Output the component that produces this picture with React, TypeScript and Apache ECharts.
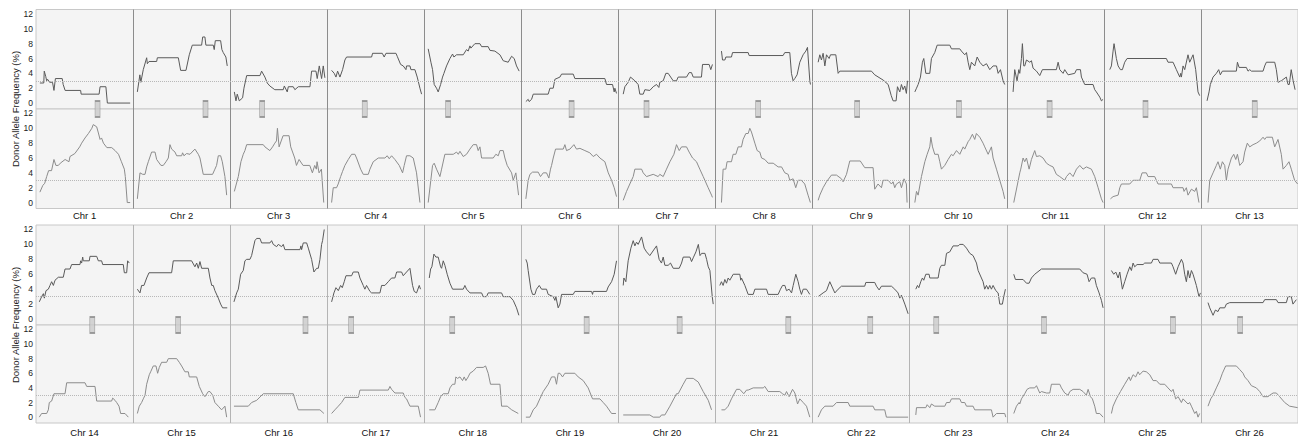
import React, { useEffect, useRef } from 'react';
import * as echarts from 'echarts';

// Profiles: [position along chromosome (% of length), donor allele frequency (%)]
// "a" = upper track, "b" = lower track
const c1a = [[4,2.7],[8,2.7],[8.5,4.3],[10,3.6],[11,3.0],[12,3.2],[14,2.8],[17,2.8],[18.5,1.7],[20,3.3],[27,3.3],[28,2.5],[30,1.7],[46,1.7],[46.5,1.2],[65,1.2],[66,2.2],[72,2.2],[73.5,0],[97,0]];
const c1b = [[4,1.4],[7,2.3],[9,2.6],[11,3.5],[13,4.3],[16,4.3],[18.5,5.8],[20.5,5.0],[23,5.0],[25,5.3],[30,5.8],[34,5.5],[35,6.2],[40,6.6],[45,7.5],[47,8.0],[50.5,8.7],[54,9.3],[57.5,10.0],[59,10.5],[62.5,10.2],[64,9.5],[66,8.5],[67.5,8.7],[69.5,8.0],[73,7.4],[78,7.4],[81.5,7.0],[85,6.5],[88,5.5],[91,4.5],[92,3.5],[94,0],[97,0]];
const c2a = [[4.4,1.5],[7,3.8],[8,2.8],[10.5,4.5],[14,6.1],[14.7,5.3],[16.4,5.6],[24.3,5.6],[25,6.1],[46.6,6.1],[49,4.4],[54.5,4.4],[57.9,6.5],[61,7.8],[70.6,7.8],[71.7,8.9],[74,8.9],[75,7.8],[82.6,7.8],[83.6,7.2],[84.7,8.4],[90.2,8.4],[91.5,7.2],[92.9,6.8],[95.6,6.2],[97,5.0]];
const c2b = [[4.4,0.5],[7.1,4.0],[9.9,3.8],[12.3,3.8],[14,4.8],[15.7,5.5],[19.1,6.8],[22.6,6.8],[24.3,5.8],[28.7,5.0],[31.1,5.0],[33.9,5.5],[36.3,6.0],[38,7.8],[39.7,7.2],[43.2,6.8],[44.9,6.3],[50,6.3],[51,6.7],[52.4,6.3],[55.1,6.6],[58.6,6.5],[63.7,7.2],[67.2,6.5],[68.9,6.0],[72.3,3.8],[81.9,3.8],[84.3,4.5],[86,5.0],[87.8,6.3],[90.2,6.3],[91.9,5.5],[94.6,3.5],[96.4,1.0]];
const c3a = [[4.3,1.5],[6,0.3],[7.3,1.2],[9.4,0.3],[12.8,0.7],[14.2,2.0],[17,3.7],[30.7,3.7],[32.4,4.3],[35.8,3.5],[38.2,2.7],[40.9,2.3],[46,1.8],[54.7,1.8],[55.8,2.3],[58.8,1.5],[59.9,2.2],[65,2.2],[66.7,1.8],[70.2,2.2],[82.2,2.2],[83.9,4.3],[88.4,4.3],[89.7,3.3],[91.8,5.0],[94.2,3.3],[95.9,5.0],[97.6,3.4]];
const c3b = [[4.3,1.5],[8.4,3.5],[11.1,5.5],[13.5,6.5],[15.2,7.0],[17,7.8],[34.1,7.8],[35.8,7.5],[40.9,7.0],[43.7,7.5],[46,8.0],[47.7,8.3],[48.7,10.0],[50.4,7.5],[54.5,9.0],[60.7,9.0],[62.4,7.5],[66.5,6.0],[68.3,5.0],[71,5.8],[75.1,5.0],[82,5.0],[84.7,4.0],[87.1,5.0],[88.8,4.5],[89.5,5.5],[91.6,4.0],[94,4.5],[96.4,0]];
const c4a = [[4.5,4.4],[7.2,4.0],[9,3.5],[10.7,4.3],[13.1,3.5],[15.8,4.5],[18.2,5.8],[19.9,6.2],[45.7,6.2],[46.7,6.7],[56.7,6.7],[58.7,6.2],[60.5,6.7],[70.8,6.7],[72.1,6.3],[75.6,5.2],[78.3,5.0],[81.1,4.5],[81.7,5.0],[85.2,5.0],[86.2,4.5],[90.3,4.5],[92.7,3.5],[95.5,2.0],[97.2,1.2]];
const c4b = [[4.5,0],[6.2,2.0],[9.6,2.0],[11.3,2.5],[13.8,3.5],[15.8,4.2],[18.2,5.0],[21.7,5.8],[25.1,6.5],[28.5,6.5],[30.2,6.0],[34.4,4.5],[37.1,3.8],[42.3,3.8],[44,4.5],[47.4,5.5],[52.6,6.0],[59.4,6.0],[61.8,6.3],[63.9,5.9],[66.3,6.3],[69.7,5.8],[74.2,5.0],[77.6,4.0],[79.3,5.0],[81.7,6.3],[85.2,6.3],[88.6,6.0],[92,4.0],[95.5,0]];
const c5a = [[4,7.3],[6.8,5.5],[8.5,4.5],[10.2,2.5],[12.6,2.0],[14.3,1.5],[16.8,2.5],[18.8,3.5],[20.2,4.0],[22.9,5.0],[26.4,6.0],[29.1,6.6],[30.5,6.2],[33.2,6.5],[40.1,6.5],[43.5,7.2],[45.2,7.0],[47,7.7],[48,7.4],[52.1,8.0],[57.3,8.0],[59,7.6],[65.8,7.6],[67.6,7.1],[72.7,7.0],[77.9,6.5],[81.3,5.7],[86.4,5.5],[89.9,6.3],[92.6,6.0],[95,5.0],[97.7,4.3]];
const c5b = [[4,0],[8.5,5.0],[10.2,5.3],[12.6,4.5],[16.1,3.5],[17.8,4.5],[21.2,6.5],[29.8,6.5],[33.2,6.8],[35,6.5],[36.7,6.9],[40.1,6.2],[43.5,6.5],[47,7.2],[50.4,7.8],[53.8,7.8],[55.5,7.0],[57.3,7.5],[59,6.0],[71,6.0],[73.7,6.5],[76.2,6.3],[77.9,7.0],[81.3,7.0],[83,6.0],[85.4,5.0],[89.9,4.0],[91.6,3.0],[94.3,4.0],[97.1,1.0]];
const c6a = [[4.6,0.2],[7,0.5],[8,0.2],[10.5,0.5],[12.2,1.2],[27.6,1.2],[29.4,2.0],[32.8,2.0],[34.5,3.2],[39.7,3.5],[41.4,3.9],[53.4,3.9],[55.1,3.3],[86,3.3],[87.7,2.5],[93.9,2.5],[95.6,1.5],[96.3,2.0],[98,1.3]];
const c6b = [[4.6,0.5],[7,3.0],[8.8,3.8],[11.5,4.1],[17.3,4.1],[19.7,3.5],[22.5,4.0],[25.9,4.0],[28.3,3.3],[30,4.5],[31.1,5.0],[32.8,6.0],[35.2,7.2],[43.1,7.2],[44.8,7.8],[46.5,7.0],[50,7.2],[54.1,7.8],[56.8,7.2],[60.3,7.3],[65.4,7.0],[70.5,6.7],[74,6.2],[77.4,6.5],[80.9,6.0],[86,5.5],[89.5,4.0],[92.9,3.0],[95.6,2.0],[98,0.8]];
const c7a = [[4.9,1.2],[6.6,2.2],[10,2.8],[12.4,3.5],[16.9,3.0],[20.3,2.5],[22,1.2],[25.5,1.2],[27.2,1.8],[32.3,1.7],[35.8,2.2],[39.2,2.5],[41.6,2.1],[42.6,2.8],[46.1,3.0],[48.8,4.0],[51.2,4.0],[56.4,3.0],[59.8,3.0],[61.5,3.5],[70.1,3.5],[72.8,4.1],[75.2,4.1],[77,3.5],[85.5,3.5],[86.6,5.2],[93.4,5.2],[95.1,4.5],[96.8,5.2]];
const c7b = [[4.9,0.3],[8.3,1.5],[11.7,2.5],[15.2,3.5],[16.9,4.5],[23.8,4.5],[25.5,4.0],[28.9,3.5],[35.8,3.8],[40.9,3.5],[42.6,3.8],[46.1,3.5],[49.5,4.5],[53,5.5],[57.1,6.5],[59.8,7.8],[62.6,7.0],[65,7.5],[70.1,7.5],[72.8,6.8],[76.3,6.0],[80.4,5.5],[83.8,4.5],[87.3,3.5],[92.4,2.0],[95.9,1.0],[96.8,0.7]];
const c8a = [[6.1,7.0],[7.2,5.8],[9.6,5.8],[10.6,6.2],[16.4,6.2],[17.5,6.8],[33.6,6.8],[34.6,6.4],[69.6,6.4],[71.3,6.8],[76.5,6.8],[78.2,4.0],[79.9,3.0],[81.6,3.3],[84,3.8],[86.8,5.5],[90.2,6.5],[93,7.0],[94.7,7.5],[97.1,3.0],[97.8,2.5]];
const c8b = [[6.1,0],[7.8,4.5],[10.6,4.5],[11.9,5.5],[16.4,5.5],[18.1,6.5],[20.9,6.5],[23.3,7.5],[26.7,7.5],[28.4,8.5],[31.2,9.3],[33.6,9.3],[35.3,10.0],[37,9.5],[40.5,8.0],[42.9,7.0],[45.6,6.8],[47.4,6.0],[50.8,5.8],[54.2,5.3],[59.4,5.3],[64.5,4.8],[68,4.8],[71.4,4.0],[74.8,3.8],[76.5,3.0],[79.9,3.2],[82.6,2.0],[85,3.0],[88.4,3.0],[91.9,2.5],[95.3,1.0],[97.7,0]];
const c9a = [[5.7,5.5],[7.4,6.5],[9.1,5.8],[10.8,6.7],[12.6,5.0],[14.3,6.5],[17,6.0],[18.4,6.5],[23.9,6.5],[26.3,4.0],[28,4.3],[60.6,4.3],[64,3.8],[72.6,3.1],[77.8,2.5],[81,1.0],[82.9,0.3],[86,0.3],[87.4,2.2],[89.8,1.5],[91.5,2.5],[93.2,1.8],[94.9,2.3],[96.6,1.3],[97.7,3.0]];
const c9b = [[5.7,0.3],[7.4,1.0],[10.8,2.0],[14.3,2.8],[19.4,3.7],[24.6,3.7],[29.7,3.2],[31.4,2.8],[34.9,3.8],[38.3,5.6],[49.1,5.6],[53.7,4.7],[62.3,4.7],[64,1.8],[67.4,2.5],[70.9,2.0],[72.6,3.0],[77.8,3.0],[81.2,2.5],[82.9,2.8],[84.6,2.0],[86.3,2.5],[89.8,2.8],[91.5,2.0],[94.2,3.2],[96.6,2.5],[97.3,0]];
const c10a = [[5.3,1.5],[7,2.0],[8.7,2.5],[11.1,3.5],[13.1,5.5],[14.5,6.0],[16.6,4.0],[20.7,4.0],[22.4,6.0],[25.8,6.8],[28.3,7.8],[41.3,7.8],[43,7.3],[51.6,7.3],[53.3,7.0],[56.7,6.5],[58.5,6.8],[60.2,5.5],[61.9,4.5],[63.6,5.5],[67,5.0],[69.5,6.2],[72.2,5.5],[75.6,5.0],[79.1,5.3],[82.5,4.5],[85.9,5.0],[89.4,5.0],[91.1,4.0],[93.5,4.5],[96.2,3.0],[97.9,2.5]];
const c10b = [[5.3,0],[7,1.5],[8.7,1.0],[12.1,3.5],[15.6,5.5],[18,6.5],[20.7,7.5],[21.8,8.8],[23.5,7.5],[25.8,6.5],[29.3,6.5],[31,5.5],[32.7,4.5],[36.1,5.0],[39.6,5.8],[43,6.5],[44.7,6.3],[48.2,7.0],[51.6,6.5],[55.1,7.5],[56.7,7.2],[60.2,8.2],[61.9,8.5],[64.6,9.2],[67,8.5],[68.7,9.3],[72.2,8.8],[75.6,8.0],[77.3,7.5],[80.8,6.5],[84.2,7.5],[85.9,6.0],[89.4,4.5],[92.8,3.0],[96.2,1.5],[97.9,0.5]];
const c11a = [[6.5,1.5],[8.2,4.5],[10.6,3.0],[12.4,4.5],[13.4,4.0],[15.1,6.0],[16.1,8.0],[17.5,5.0],[18.5,5.0],[20.3,5.8],[23.7,5.5],[25.4,5.7],[27.1,4.7],[30.6,4.3],[34,3.7],[36.7,4.5],[51.1,4.5],[52.9,5.5],[54.6,4.5],[58,4.0],[59.7,4.5],[63.2,3.8],[70,4.0],[71.8,4.5],[75.9,4.5],[76.9,3.5],[80.3,2.5],[88.9,2.5],[90.6,1.8],[92.3,1.5],[95.8,0.8],[97.5,0.3],[99.2,0.5]];
const c11b = [[7.2,0],[13.4,4.0],[14.4,4.5],[16.8,6.0],[18.5,5.5],[20.3,6.0],[23,4.5],[25.4,5.8],[28.8,7.0],[30.6,6.2],[34,6.3],[37.4,6.0],[40.9,5.3],[44.3,5.0],[47.7,4.8],[51.1,3.8],[54.6,3.5],[59.7,3.0],[61.5,3.5],[64.9,4.0],[68.3,3.5],[71.8,4.5],[75.2,5.0],[78.6,4.5],[82,4.8],[87.2,4.5],[90.6,3.5],[94.1,2.0],[97.5,0.5],[99.2,0]];
const c12a = [[6.1,4.5],[7.8,5.0],[9.5,7.0],[10.5,8.0],[12.9,6.0],[14.7,5.0],[17.1,4.5],[19.1,4.5],[21.5,5.5],[23.9,6.0],[64.4,6.0],[66.1,5.5],[71.3,5.5],[74.7,4.5],[78.2,3.5],[79.2,4.0],[79.9,3.5],[81.6,5.0],[83.3,4.5],[86.7,6.5],[88.4,5.5],[91.9,6.5],[94.6,4.5],[97,1.5],[98.7,1.0]];
const c12b = [[6.8,0.5],[9.5,0.8],[14.7,1.0],[16.4,2.0],[18.1,2.5],[26.7,2.5],[30.1,3.0],[37,3.0],[39.4,4.0],[43.8,4.0],[45.5,3.5],[52.4,3.5],[55.8,2.5],[69.6,2.5],[71.3,2.0],[81.6,2.0],[82.6,1.5],[85,2.0],[86.7,1.0],[90.2,1.8],[93.6,1.5],[95.3,2.0],[98,0]];
const c13a = [[6.3,0.3],[8.4,1.5],[9.7,2.5],[12.5,3.5],[15.9,4.0],[18.3,4.5],[20,3.8],[22.1,4.3],[36.5,4.3],[37.6,5.5],[39.3,4.8],[46.8,4.8],[48.5,4.3],[50.3,4.5],[52,4.3],[64,4.3],[65.7,5.0],[67.4,5.5],[76,5.5],[77.7,4.5],[79.4,2.8],[82.8,3.0],[88,3.5],[89.7,2.5],[91,2.5],[93,4.5],[95,3.0],[97,1.8]];
const c13b = [[7.3,0],[9.1,3.0],[12.5,4.0],[15.9,5.0],[17.6,5.5],[20,4.5],[22.1,5.5],[24.5,5.0],[26.2,3.0],[27.9,4.5],[31.4,6.0],[33.8,6.5],[35.9,5.8],[37.6,6.5],[40,5.0],[43.4,5.5],[45.1,6.8],[47.8,8.0],[50.3,7.5],[53.7,7.8],[57.1,8.0],[60.6,8.3],[64,8.8],[65.7,8.5],[67.4,8.8],[73.6,8.8],[76,7.5],[79.4,8.5],[82.8,6.5],[84.6,4.5],[88,5.0],[90.7,5.5],[93.1,4.5],[96.5,3.0],[99.6,2.5]];
const c14a = [[3.4,2.3],[5.8,3.0],[7.6,3.4],[8.6,2.8],[10.3,3.8],[12.7,4.0],[14.4,4.5],[16.1,5.0],[17.9,4.5],[19.6,5.2],[23,5.6],[28.1,5.6],[29.9,6.7],[35,6.7],[36.7,7.3],[45.3,7.3],[46,7.8],[47,7.5],[48.1,8.3],[48.7,7.8],[54.9,7.8],[55.6,8.4],[62.5,8.4],[64.2,7.8],[67.6,7.8],[68.7,7.3],[89.9,7.3],[91,6.2],[93.4,6.2],[94.4,7.8],[96.1,7.5]];
const c14b = [[3.4,0],[5.8,0.5],[11,0.5],[12.7,1.0],[13.7,2.0],[16.1,2.2],[18.5,3.2],[29.9,3.2],[31.6,4.7],[50.5,4.7],[52.2,4.2],[60.8,4.2],[62.5,2.2],[77.9,2.2],[79,2.6],[81.4,2.3],[83.1,2.0],[85.5,1.5],[87.2,0.5],[91.7,0.5],[95.1,0]];
const c15a = [[4.4,4.0],[7.1,3.5],[8.8,4.5],[11.2,4.5],[14,5.5],[16.4,6.2],[39.7,6.2],[41.4,7.8],[60.3,7.8],[63.7,7.0],[65.5,7.5],[67.2,6.8],[68.9,7.7],[70.6,6.8],[77.5,6.8],[79.2,5.5],[81,4.5],[82.6,4.5],[84.3,3.8],[87.8,2.8],[90.2,2.0],[92.2,1.5],[97,1.5]];
const c15b = [[4.4,0.5],[6.4,1.5],[8.8,2.0],[10.5,2.5],[12.3,3.0],[14,4.5],[16.7,5.8],[18.1,6.2],[20.8,7.0],[23.6,7.0],[25.3,6.0],[27,6.8],[29.4,7.5],[34.6,7.5],[36.3,8.0],[44.9,8.0],[47.6,7.5],[50,7.0],[53.4,6.2],[56.9,6.2],[57.9,5.5],[65.5,5.5],[68.2,4.2],[71.7,3.2],[74,2.8],[77.5,3.5],[79.2,3.5],[82,3.0],[84.3,2.0],[87.8,1.5],[91.2,1.0],[94.6,1.5],[96.4,0]];
const c16a = [[3.9,2.3],[6.7,3.5],[8.4,4.0],[10.8,6.0],[13.5,6.5],[15.2,7.8],[17,8.0],[20.4,8.0],[22.1,8.5],[25.5,10.5],[27.3,10.8],[30.7,10.8],[32.4,10.2],[41,10.2],[42.7,10.5],[44.4,10.0],[47.9,9.7],[49.6,10.0],[53,9.7],[54.7,10.0],[56.4,9.3],[71.9,9.3],[72.9,9.8],[73.6,9.3],[75.3,10.2],[78.8,10.2],[80.5,9.5],[83.9,8.0],[86.3,6.3],[89.1,6.8],[90.8,6.8],[92.5,8.0],[94.2,10.0],[95.2,10.5],[96.9,12.0]];
const c16b = [[3.9,1.5],[18.7,1.5],[22.1,2.0],[27.3,2.3],[34.1,3.2],[65,3.2],[67.7,2.0],[70.2,1.0],[92.5,1.0],[96.6,0.5]];
const c17a = [[4.5,2.3],[6.9,3.5],[9,4.2],[11.4,3.8],[13.8,4.5],[15.5,4.2],[17.5,5.0],[19.3,5.8],[25.1,5.8],[26.8,6.3],[32,6.3],[33.7,5.5],[37.1,4.5],[38.8,4.0],[40.5,4.5],[44,3.7],[45.7,3.5],[54.3,3.5],[56,4.5],[59.4,4.5],[62.9,5.0],[66.3,5.5],[69.7,5.5],[71.5,6.3],[76.6,6.3],[78.3,5.8],[81.7,6.3],[85.2,6.8],[87.9,4.5],[89.6,3.7],[92,3.5],[94.8,4.5],[96.1,4.0]];
const c17b = [[4.5,0.5],[7.9,1.0],[11.4,1.5],[14.8,2.0],[18.2,2.7],[32,2.7],[33.7,3.7],[62.9,3.7],[64.6,4.2],[66.3,3.8],[69.7,3.3],[78.3,3.3],[80,2.7],[81.7,2.5],[85.2,1.5],[93.8,1.5],[96.1,0]];
const c18a = [[5.1,5.5],[6.5,6.7],[7.8,7.0],[9.9,8.7],[11.9,8.3],[14.3,8.3],[16.8,7.0],[17.8,6.8],[19.5,7.8],[21.2,7.2],[23.6,6.0],[26.4,4.8],[28.1,4.3],[29.1,4.0],[40.1,4.0],[41.8,4.5],[43.5,4.0],[47,3.5],[59,3.5],[60.7,3.0],[64.1,3.0],[65.8,3.5],[79.6,3.5],[81.3,3.0],[88.2,3.0],[91.6,2.5],[95,1.5],[97.4,0.5]];
const c18b = [[5.1,1.0],[10.9,1.0],[14.3,2.0],[16.8,2.8],[19.5,3.2],[24.6,3.2],[26.4,4.0],[29.1,4.5],[31.5,4.5],[32.5,5.5],[34.2,5.3],[36.7,5.5],[39.4,5.0],[41.1,5.5],[42.8,5.0],[45.2,5.5],[47,6.0],[50.4,6.3],[53.8,6.8],[60.7,6.8],[63.1,7.0],[65.8,6.0],[68.2,4.5],[77.9,4.5],[79.6,1.5],[85.4,1.5],[90,1.0],[96.8,0.5]];
const c19a = [[4.6,8.0],[6,7.5],[7,6.5],[8.1,5.5],[9.8,4.0],[11.5,3.3],[13.9,3.3],[15.6,4.0],[18.4,4.5],[20.8,4.0],[25.9,4.0],[27.6,3.3],[32.8,3.0],[34.5,2.5],[35.5,3.0],[37.9,1.5],[39.7,2.0],[41.4,3.3],[53.4,3.3],[55.1,3.7],[72.3,3.7],[73.3,3.3],[74,3.7],[87.7,3.7],[89.4,4.3],[92.9,5.0],[95.6,6.0],[98,7.8]];
const c19b = [[4.6,0],[8.8,0],[12.2,1.0],[15.6,1.5],[19,2.5],[22.5,3.5],[27.6,4.5],[31.1,5.5],[34.5,5.5],[36.2,4.5],[37.9,6.0],[39.7,6.0],[42.4,5.5],[44.8,6.0],[55.1,6.0],[58.5,5.5],[63.7,5.0],[68.8,4.0],[73.3,2.5],[80.9,2.5],[84.3,2.0],[87.7,1.5],[92.9,0.5],[97.4,0.5]];
const c20a = [[4.9,4.5],[5.6,5.5],[7.6,5.0],[10,7.8],[12.8,9.5],[15.2,10.5],[16.9,9.8],[18.6,10.3],[20.3,10.0],[23.8,11.0],[26.5,9.5],[28.9,9.0],[32.3,8.5],[39.2,9.8],[41.9,8.0],[44.3,7.5],[46.1,8.3],[47.8,7.2],[51.2,7.2],[53.6,7.5],[56.4,6.8],[62.6,6.8],[65,7.5],[66.7,8.3],[73.6,8.3],[75.3,7.7],[77,8.2],[79.8,9.0],[82.3,10.0],[84,8.5],[85.7,8.8],[89.1,8.8],[90.8,8.0],[92.5,7.0],[94.2,6.5],[96.6,3.0],[97.6,2.0]];
const c20b = [[4.9,0.3],[32.3,0.3],[35.8,0],[42.6,0],[44.3,0.3],[47.8,0.3],[53,1.5],[59.8,3.2],[61.5,3.2],[66.7,4.5],[70.1,5.3],[77,5.3],[82.2,4.8],[87.3,3.5],[92.5,2.3],[95.9,1.0]];
const c21a = [[4.4,4.5],[6.1,5.0],[7.8,4.5],[9.6,5.3],[11.3,4.8],[13,5.5],[14.7,5.2],[18.2,6.0],[25,6.0],[26,5.2],[26.7,5.5],[30.2,4.5],[33.6,3.3],[38.8,3.3],[40.5,4.0],[52.5,4.0],[54.2,3.3],[64.5,3.3],[66.9,4.0],[69,4.5],[71.4,4.5],[73.1,3.8],[75.8,4.0],[78.3,3.5],[80,4.5],[82.7,6.0],[85.1,5.0],[86.8,4.0],[88.5,3.3],[90.3,4.0],[93.7,4.0],[97.1,3.3]];
const c21b = [[6.1,1.0],[9.6,1.0],[13,1.5],[16.4,2.5],[21.6,3.8],[25,3.8],[29.1,3.2],[31.9,3.7],[33.6,3.7],[38.8,4.0],[49.1,4.0],[50.8,4.2],[54.2,3.5],[66.2,3.5],[69,3.2],[71.4,3.0],[73.1,3.5],[75.8,2.8],[79.3,3.8],[81.7,3.3],[84.5,1.8],[86.8,2.5],[90.3,2.0],[93.7,1.5],[97.1,0]];
const c22a = [[5.7,3.0],[10.8,3.5],[14.3,3.8],[17.7,5.0],[20.1,4.3],[22.9,3.5],[26.3,4.0],[29.7,4.4],[53.7,4.4],[54.8,4.9],[64,4.9],[65.8,4.4],[68.5,3.9],[70.9,4.4],[81.2,4.4],[84.6,4.0],[88,3.5],[89.8,2.8],[91.5,3.2],[95,2.0],[98.4,0.7]];
const c22b = [[5.7,0],[9.1,1.0],[12.6,1.5],[21.1,1.5],[24.6,2.0],[36.6,2.0],[38.3,1.5],[62.3,1.5],[64,1.0],[74.3,1.0],[76,0],[98.4,0]];
const c23a = [[6.3,4.0],[8,4.5],[9.4,4.2],[11.4,5.0],[13.1,5.5],[14.5,5.2],[16.6,6.0],[20,6.0],[20.7,5.5],[29.3,5.5],[31,6.8],[32.7,7.2],[36.2,7.2],[37.9,8.8],[41.3,9.0],[44.7,9.8],[49.9,9.8],[51.6,10.0],[55.1,10.0],[58.5,9.5],[61.9,8.8],[65.3,8.5],[68.8,7.5],[70.5,6.5],[73.9,5.5],[75.6,5.0],[77.3,4.0],[79.1,4.5],[80.8,4.0],[82.5,4.5],[84.2,4.0],[85.9,4.5],[88.7,3.8],[91.1,3.5],[92.8,2.0],[95.5,2.0],[96.9,3.0],[98.6,4.0]];
const c23b = [[6.3,0.3],[7,1.3],[16.6,1.3],[18,1.7],[20.7,1.3],[22.4,1.8],[25.8,1.5],[36.2,1.5],[37.9,2.0],[41.3,2.0],[43,2.5],[51.6,2.5],[53.3,2.0],[56.7,2.0],[58.5,1.5],[65.3,1.5],[67,1.0],[84.2,1.0],[85.9,0],[89.4,0.5],[97.9,0.5],[99,0]];
const c24a = [[7.2,6.0],[8.9,5.3],[16.8,5.3],[20.3,4.8],[23,4.8],[25.4,5.5],[28.8,6.0],[35.7,6.7],[75.2,6.7],[78.6,6.2],[82.7,6.0],[84.8,5.0],[87.2,5.5],[90.6,5.5],[92.3,4.5],[95.1,3.5],[97.5,2.5],[99.2,1.5]];
const c24b = [[7.2,0.5],[10,1.5],[12.7,2.0],[13.4,1.8],[15.1,2.5],[18.5,3.2],[20.9,3.8],[23.7,4.0],[28.8,4.0],[30.6,4.3],[34,3.3],[35.7,3.5],[40.9,3.3],[44.3,3.3],[46,4.5],[54.6,4.5],[56.3,4.0],[59.7,3.3],[63.2,3.0],[64.9,3.5],[68.3,3.8],[75.2,3.8],[78.6,3.5],[82,3.0],[83.8,3.8],[86.2,2.8],[88.2,2.5],[90.6,1.5],[92.3,0.5],[95.8,0.5],[99.2,0]];
const c25a = [[7.8,6.5],[10.2,6.0],[12.3,6.3],[14.7,5.5],[16.4,6.3],[19.1,4.0],[21.5,5.0],[23.9,6.0],[26.7,7.0],[28.4,6.5],[30.1,7.5],[31.8,7.0],[34.2,7.3],[40.4,7.3],[42.1,7.5],[49,7.5],[50.7,8.0],[55.8,8.0],[57.6,7.5],[69.6,7.5],[71.3,7.0],[74,6.0],[76.5,7.0],[79.9,8.0],[81.6,7.5],[83.3,6.0],[85,5.0],[86.7,6.5],[88.4,5.5],[90.2,6.5],[91.9,6.0],[95.3,4.5],[98,3.0],[99.5,3.5]];
const c25b = [[7.8,0.5],[9.5,1.5],[12.9,2.5],[17.1,3.5],[21.5,4.5],[26,5.5],[27.4,5.0],[30.1,5.8],[32.8,5.5],[35.2,6.2],[36.9,5.8],[40.4,6.3],[43.8,6.2],[47.3,5.8],[50.7,5.0],[54.1,5.0],[57.6,4.5],[62.7,4.5],[66.1,4.0],[69.6,3.5],[71.3,3.8],[74,2.5],[76.5,2.8],[79.9,2.0],[81.6,2.5],[86.7,1.8],[88.4,2.0],[90.2,1.5],[93.6,0.5],[95.3,0.8],[97,0],[98.7,0.5]];
const c26a = [[7.3,2.2],[9.1,1.5],[12.5,0.5],[14.9,1.2],[17.6,1.0],[19.4,1.5],[24.5,1.5],[26.2,2.0],[29.7,2.2],[64,2.2],[65.7,2.6],[77.7,2.6],[79.4,2.2],[88,2.2],[89.7,3.0],[93.1,3.0],[94.8,2.0],[98.3,2.6]];
const c26b = [[7.3,1.5],[10.1,2.5],[12.5,3.0],[15.9,4.0],[19.4,5.0],[22.1,6.0],[25.5,7.0],[36.5,7.0],[40,6.5],[43.4,6.0],[45.1,5.5],[48.5,5.0],[52,4.3],[57.1,4.0],[60.6,3.5],[64,2.8],[69.2,2.8],[70.9,3.0],[74.3,3.3],[77.7,3.3],[81.1,2.8],[86.3,2.0],[91.4,1.5],[99.6,1.3]];

const upperProfiles = [c1a,c2a,c3a,c4a,c5a,c6a,c7a,c8a,c9a,c10a,c11a,c12a,c13a,c14a,c15a,c16a,c17a,c18a,c19a,c20a,c21a,c22a,c23a,c24a,c25a,c26a];
const lowerProfiles = [c1b,c2b,c3b,c4b,c5b,c6b,c7b,c8b,c9b,c10b,c11b,c12b,c13b,c14b,c15b,c16b,c17b,c18b,c19b,c20b,c21b,c22b,c23b,c24b,c25b,c26b];

const row1Names = ['Chr 1','Chr 2','Chr 3','Chr 4','Chr 5','Chr 6','Chr 7','Chr 8','Chr 9','Chr 10','Chr 11','Chr 12','Chr 13'];
const row2Names = ['Chr 14','Chr 15','Chr 16','Chr 17','Chr 18','Chr 19','Chr 20','Chr 21','Chr 22','Chr 23','Chr 24','Chr 25','Chr 26'];

// centromere position (% of chromosome length)
const row1Centromeres = [63.4,74.6,33.0,38.6,24.5,51.7,28.9,43.9,45.9,50.7,44.1,42.9,55.4];
const row2Centromeres = [58.0,46.4,77.6,24.7,28.8,67.2,63.0,75.0,59.4,27.4,38.3,71.1,40.4];

const yTicks = [0, 2, 4, 6, 8, 10, 12];
const thresholdValue = 3;
const Y_MIN = -0.8;
const Y_MAX = 12.6;
const yTitle = 'Donor Allele Frequency (%)';

export default function App() {
  const ref = useRef<HTMLDivElement>(null);
  useEffect(() => {
    if (!ref.current) return;
    const chart = echarts.init(ref.current, null, { renderer: 'svg' });
    const font = 'Arial, "Liberation Sans", Helvetica, sans-serif';
    const rowNames = [row1Names, row2Names];
    const rowCentro = [row1Centromeres, row2Centromeres];

    const grid = [
      { left: 36, right: 0, top: 9.5, height: 99.5 },
      { left: 36, right: 0, top: 109, height: 99.5 },
      { left: 36, right: 0, top: 225, height: 100 },
      { left: 36, right: 0, top: 325, height: 99 },
    ].map((g) => ({ ...g, show: true, backgroundColor: '#f4f4f4', borderColor: '#c8c8c8', borderWidth: 1 }));

    const xAxis: any[] = [];
    for (let g = 0; g < 4; g++) {
      xAxis.push({ type: 'value', gridIndex: g, min: 0, max: 13, show: false });
    }
    for (let g = 0; g < 4; g++) {
      const row = g >> 1;
      const isLower = g % 2 === 1;
      xAxis.push({
        type: 'category',
        gridIndex: g,
        data: rowNames[row],
        boundaryGap: true,
        position: 'bottom',
        axisLine: { show: false },
        axisTick: { show: false },
        axisLabel: { show: isLower, interval: 0, margin: row === 0 ? 2 : 4, fontSize: 9.5, color: '#111', fontFamily: font },
        splitLine: {
          show: true,
          interval: 0,
          showMinLine: false,
          showMaxLine: false,
          lineStyle: { color: row === 0 ? '#8c8c8c' : '#b4b4b4', width: 1 },
        },
      });
    }

    const yAxis: any[] = [];
    for (let g = 0; g < 4; g++) {
      yAxis.push({
        type: 'value',
        gridIndex: g,
        min: Y_MIN,
        max: Y_MAX,
        axisLine: { show: false },
        axisTick: { show: false },
        splitLine: { show: false },
        axisLabel: { customValues: yTicks, fontSize: 8.5, color: '#222', margin: 3, fontFamily: font },
      });
    }

    const thresholdLine = {
      silent: true,
      symbol: 'none',
      label: { show: false },
      lineStyle: { type: 'dotted', color: '#b8b8b8', width: 1 },
      data: [{ yAxis: thresholdValue }],
    };

    const series: any[] = [];
    for (let i = 0; i < 26; i++) {
      const row = Math.floor(i / 13);
      const col = i % 13;
      const gUp = row * 2;
      const gLo = row * 2 + 1;
      series.push({
        type: 'line',
        xAxisIndex: gUp,
        yAxisIndex: gUp,
        data: upperProfiles[i].map(([t, v]) => [col + t / 100, v]),
        symbol: 'none',
        showSymbol: false,
        silent: true,
        lineStyle: { color: '#5a5a5a', width: 1 },
        markLine: col === 0 ? thresholdLine : undefined,
        z: 3,
      });
      series.push({
        type: 'line',
        xAxisIndex: gLo,
        yAxisIndex: gLo,
        data: lowerProfiles[i].map(([t, v]) => [col + t / 100, v]),
        symbol: 'none',
        showSymbol: false,
        silent: true,
        lineStyle: { color: '#8c8c8c', width: 1 },
        markLine: col === 0 ? thresholdLine : undefined,
        z: 3,
      });
    }
    for (let row = 0; row < 2; row++) {
      series.push({
        type: 'scatter',
        xAxisIndex: row * 2,
        yAxisIndex: row * 2,
        data: rowCentro[row].map((c, col) => [col + c / 100, Y_MIN]),
        symbol: 'rect',
        symbolSize: [5, 16],
        clip: false,
        silent: true,
        itemStyle: { color: '#cbcbcb', borderColor: '#8a8a8a', borderWidth: 1 },
        z: 10,
      });
    }

    chart.setOption({
      animation: false,
      backgroundColor: '#ffffff',
      grid,
      xAxis,
      yAxis,
      series,
      graphic: [
        { type: 'text', x: 15, y: 109, rotation: Math.PI / 2, style: { text: yTitle, fontSize: 9.5, fontFamily: font, fill: '#222', textAlign: 'center', textVerticalAlign: 'middle' } },
        { type: 'text', x: 15, y: 325, rotation: Math.PI / 2, style: { text: yTitle, fontSize: 9.5, fontFamily: font, fill: '#222', textAlign: 'center', textVerticalAlign: 'middle' } },
      ],
    });
    return () => chart.dispose();
  }, []);
  return <div ref={ref} style={{ position: 'absolute', left: 0, top: 0, width: 1298, height: 437 }} />;
}
